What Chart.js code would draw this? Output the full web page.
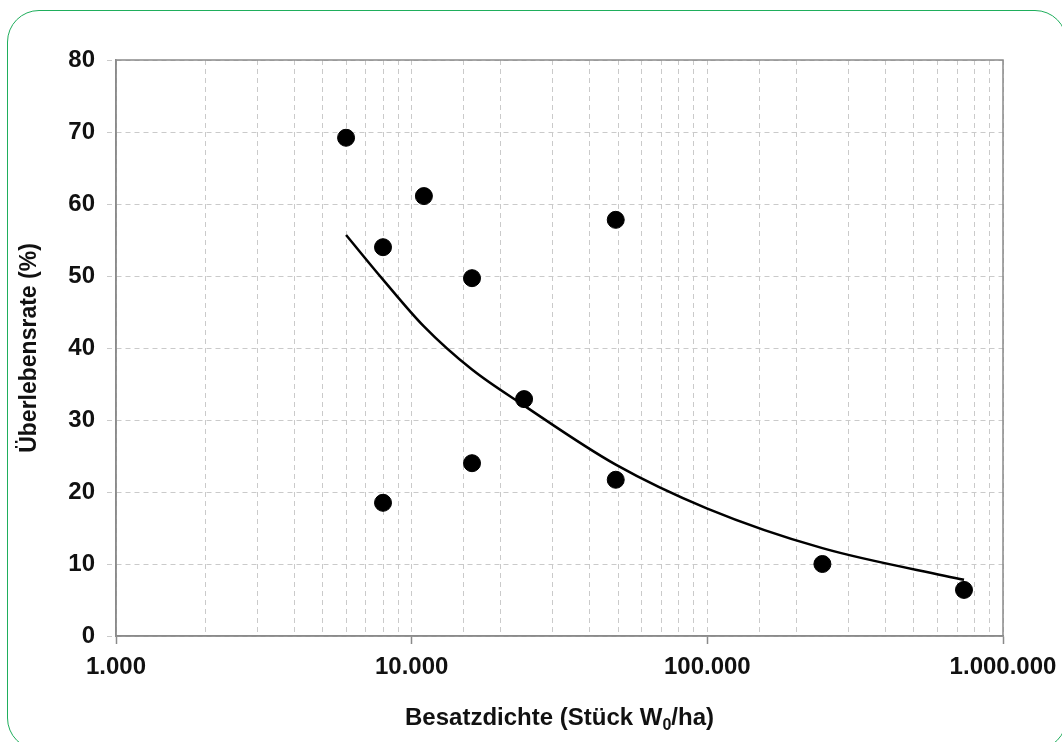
<!DOCTYPE html>
<html>
<head>
<meta charset="utf-8">
<script src="https://cdn.jsdelivr.net/npm/chart.js@4"></script>
<style>
  html, body { margin: 0; padding: 0; background: #fff; }
  #wrap { position: relative; width: 1062px; height: 742px; overflow: hidden; }
  #frame {
    position: absolute; left: 7px; top: 10px; width: 1060px; height: 740px;
    border: 1.5px solid #1fae5c; border-radius: 32px; box-sizing: border-box;
  }
  #xtitle {
    position: absolute; left: 116px; width: 887px; top: 703px; text-align: center;
    font: bold 24px "Liberation Sans", Arial, sans-serif; color: #111;
  }
  #xtitle sub { font-size: 16px; vertical-align: -5px; line-height: 0; }
  canvas { position: absolute; left: 0; top: 0; }
</style>
</head>
<body>
<div id="wrap">
  <div id="frame"></div>
  <canvas id="chart" width="1062" height="742"></canvas>
  <div id="xtitle">Besatzdichte (Stück W<sub>0</sub>/ha)</div>
</div>
<script>
// Besatzdichte (Stück/ha) und Überlebensrate (%)
const density  = [6000, 8000, 8000, 11000, 16000, 16000, 24000, 49000, 49000, 245000, 738000];
const survival = [69.2, 54.0, 18.5, 61.1, 49.7, 24.0, 32.9, 57.8, 21.7, 10.0, 6.4];

// Trendlinie (Potenzfunktion)
const trendX = [6000, 8000, 11000, 16000, 24000, 49000, 100000, 245000, 738000];
const trendY = [55.7, 49.5, 43.0, 37.0, 32.0, 23.8, 17.7, 12.2, 7.8];

const yTicks = [0, 10, 20, 30, 40, 50, 60, 70, 80];

const FONT = '"Liberation Sans", Arial, sans-serif';
const GRID = '#cacaca';
const AXIS = '#8a8a8a';

function isDecade(v) {
  const l = Math.log10(v);
  return Math.abs(l - Math.round(l)) < 1e-9;
}

function fmtDe(v) {
  return Math.round(v).toString().replace(/\B(?=(\d{3})+(?!\d))/g, '.');
}

// box around the plot area
const frameBox = {
  id: 'frameBox',
  afterDatasetsDraw(chart) {
    const a = chart.chartArea, c = chart.ctx;
    c.save();
    c.strokeStyle = AXIS;
    c.lineWidth = 1.5;
    c.strokeRect(a.left, a.top, a.right - a.left, a.bottom - a.top);
    c.restore();
  }
};

new Chart(document.getElementById('chart'), {
  type: 'scatter',
  data: {
    datasets: [
      {
        type: 'line',
        data: trendX.map((x, i) => ({ x, y: trendY[i] })),
        borderColor: '#000',
        borderWidth: 2.5,
        pointRadius: 0,
        fill: false,
        cubicInterpolationMode: 'monotone'
      },
      {
        data: density.map((x, i) => ({ x, y: survival[i] })),
        backgroundColor: '#000',
        borderColor: '#000',
        pointRadius: 8.5,
        pointHoverRadius: 8.5
      }
    ]
  },
  options: {
    responsive: false,
    animation: false,
    layout: { padding: { left: 0, top: 60, right: 59, bottom: 0 } },
    plugins: { legend: { display: false }, tooltip: { enabled: false } },
    scales: {
      x: {
        type: 'logarithmic',
        min: 1000,
        max: 1000000,
        afterFit(s) {
          s.height = 106;
          s.paddingLeft = 0;
          s.paddingRight = 0;
        },
        border: { display: true, color: AXIS, width: 1.5, dash: [5, 4] },
        grid: {
          color: GRID,
          lineWidth: 1,
          tickLength: 8,
          tickColor: (ctx) => ctx.tick && isDecade(ctx.tick.value) ? AXIS : 'rgba(0,0,0,0)',
          tickWidth: 1.5
        },
        ticks: {
          autoSkip: false,
          maxRotation: 0,
          padding: 9,
          color: '#111',
          font: { family: FONT, size: 24, weight: 'bold' },
          callback: (v) => isDecade(v) ? fmtDe(v) : ''
        }
      },
      y: {
        min: 0,
        max: 80,
        afterFit(s) {
          s.width = 116;
          s.paddingTop = 0;
          s.paddingBottom = 0;
        },
        afterBuildTicks(s) { s.ticks = yTicks.map(v => ({ value: v })); },
        border: { display: true, color: AXIS, width: 1.5, dash: [5, 4] },
        grid: {
          color: GRID,
          lineWidth: 1,
          tickLength: 9,
          tickColor: GRID,
          tickBorderDash: [5, 4]
        },
        ticks: {
          padding: 12,
          color: '#111',
          font: { family: FONT, size: 24, weight: 'bold' }
        },
        title: {
          display: true,
          text: 'Überlebensrate (%)',
          color: '#111',
          font: { family: FONT, size: 23, weight: 'bold' },
          padding: { top: 16, bottom: 0 }
        }
      }
    }
  },
  plugins: [frameBox]
});
</script>
</body>
</html>
